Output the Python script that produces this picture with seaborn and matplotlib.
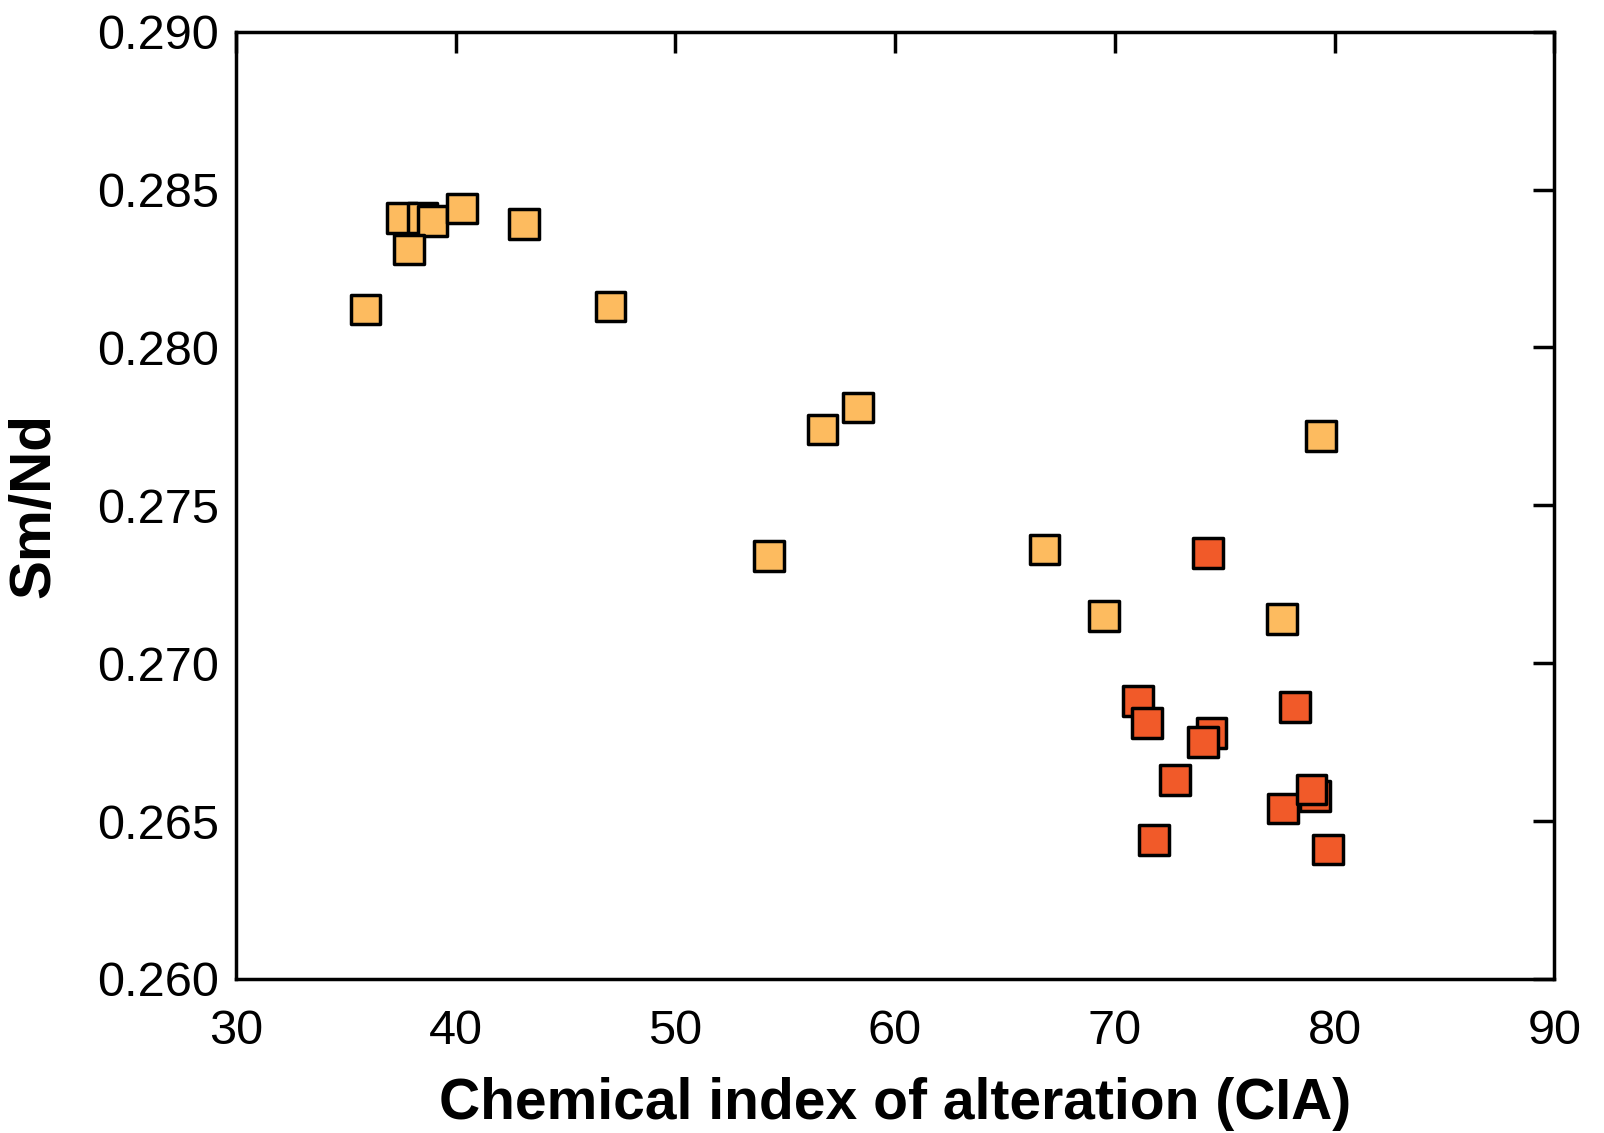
import matplotlib
matplotlib.use("Agg")
import matplotlib.pyplot as plt
import seaborn as sns
import pandas as pd

# light orange group
cia_a = [35.9, 37.55, 38.5, 38.95, 37.9, 40.3, 43.1, 47.05, 58.3, 56.7, 54.25, 66.8, 69.5, 77.6, 79.4]
smnd_a = [0.2812, 0.2841, 0.2841, 0.2840, 0.2831, 0.2844, 0.2839, 0.2813, 0.2781, 0.2774,
          0.2734, 0.2736, 0.2715, 0.2714, 0.2772]

# red-orange group
cia_b = [74.25, 71.05, 71.45, 74.4, 74.0, 78.2, 72.75, 71.8, 77.65, 79.1, 78.95, 79.7]
smnd_b = [0.2735, 0.2688, 0.2681, 0.2678, 0.2675, 0.2686, 0.2663, 0.2644, 0.2654, 0.2658,
          0.2660, 0.2641]

groups = ["A", "B"]
palette = {"A": "#FDBB5F", "B": "#F15A29"}

df = pd.DataFrame({
    "CIA": cia_a + cia_b,
    "SmNd": smnd_a + smnd_b,
    "group": ["A"] * len(cia_a) + ["B"] * len(cia_b),
})

sns.set_style("white")
plt.rcParams["font.family"] = ["Liberation Sans", "DejaVu Sans"]
plt.rcParams.update({"text.color": "black", "axes.labelcolor": "black",
                     "xtick.color": "black", "ytick.color": "black"})

fig = plt.figure(figsize=(16.04, 11.33), dpi=100)
ax = fig.add_axes([0.147, 0.136, 0.822, 0.836])

sns.scatterplot(data=df, x="CIA", y="SmNd", hue="group", hue_order=groups,
                palette=palette, marker="s", s=460, edgecolor="black",
                linewidth=2.5, legend=False, ax=ax, zorder=3)

ax.set_xlim(30, 90)
ax.set_ylim(0.260, 0.290)
ax.set_xticks(range(30, 91, 10))
ax.set_yticks([0.260, 0.265, 0.270, 0.275, 0.280, 0.285, 0.290])
ax.set_yticklabels([f"{v:.3f}" for v in ax.get_yticks()])

ax.tick_params(direction="in", length=15, width=2.5, labelsize=35,
               top=True, right=True)
ax.tick_params(axis="y", pad=12)
ax.tick_params(axis="x", pad=22)
for sp in ax.spines.values():
    sp.set_linewidth(2.5)
    sp.set_color("black")

ax.set_xlabel("Chemical index of alteration (CIA)", fontsize=41, fontweight="bold", labelpad=16)
ax.set_ylabel("Sm/Nd", fontsize=42, fontweight="bold", labelpad=26)

fig.savefig("out.png", dpi=100)
